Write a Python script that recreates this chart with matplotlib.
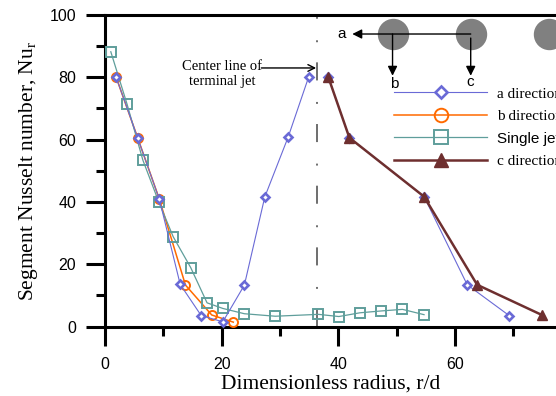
import matplotlib; matplotlib.use("Agg")
import matplotlib.pyplot as plt
from matplotlib.ticker import FixedLocator

plt.rcParams['mathtext.fontset'] = 'custom'
plt.rcParams['mathtext.rm'] = 'Liberation Serif'
plt.rcParams['mathtext.it'] = 'Liberation Serif:italic'

SERIF = 'Liberation Serif'
SANS = 'Liberation Sans'

# Data
single_x = [1.0, 3.8, 6.5, 9.2, 11.7, 14.7, 17.5, 20.2, 23.9, 29.2, 36.6, 40.1, 43.7, 47.4, 51.0, 54.7]
single_y = [88.2, 71.3, 53.4, 40.1, 28.8, 18.9, 7.6, 5.8, 4.1, 3.3, 3.9, 3.2, 4.4, 5.0, 5.5, 3.8]

b_x = [1.9, 5.6, 9.3, 13.8, 18.3, 22.0]
b_y = [80.1, 60.6, 41.0, 13.3, 3.7, 1.4]

# a direction: two branches, either side of the terminal jet
a_near_x = [1.9, 5.6, 9.3, 12.9, 16.5, 20.2, 23.9, 27.4, 31.4, 34.9]
a_near_y = [80.1, 60.6, 41.0, 13.5, 3.5, 1.5, 13.3, 41.6, 60.8, 80.0]
a_far_x = [38.3, 41.9, 54.7, 62.1, 69.3]
a_far_y = [80.0, 60.6, 41.7, 13.4, 3.5]

c_x = [38.3, 41.9, 54.7, 63.8, 74.9]
c_y = [80.0, 60.6, 41.7, 13.4, 3.7]

centerline_x = 36.3

x_major = [0, 20, 40, 60]
x_minor = [10, 30, 50, 70]
y_major = [0, 20, 40, 60, 80, 100]
y_minor = [10, 30, 50, 70, 90]

col_a = '#6a6ad6'
col_b = '#ff6a00'
col_s = '#5f9e9b'
col_c = '#6e2f2f'

fig = plt.figure(figsize=(5.56, 3.96), dpi=100)
ax = fig.add_axes([0.1888, 0.1755, 0.8393, 0.7866])
ax.set_xlim(0, 80)
ax.set_ylim(0, 100)

ax.plot(b_x, b_y, color=col_b, lw=1.1, marker='o', ms=6.5, mfc='none', mec=col_b,
        mew=1.4, label='b direction', clip_on=False, zorder=3)
ax.plot(single_x, single_y, color=col_s, lw=0.9, marker='s', ms=6.5, mfc='none', mec=col_s,
        mew=1.4, label='Single jet', clip_on=False, zorder=3)
ax.plot(a_near_x, a_near_y, color=col_a, lw=0.8, marker='D', ms=3.8, mfc='white', mec=col_a,
        mew=1.9, label='a direction', clip_on=False, zorder=4)
ax.plot(a_far_x, a_far_y, color=col_a, lw=0.8, marker='D', ms=3.8, mfc='white', mec=col_a,
        mew=1.9, clip_on=False, zorder=4)
ax.plot(c_x, c_y, color=col_c, lw=1.8, marker='^', ms=7, mfc=col_c, mec=col_c,
        label='c direction', clip_on=False, zorder=5)

# center line of the terminal jet
lw_cl = 1.2
ax.plot([centerline_x, centerline_x], [100, 0], color='#555555', lw=lw_cl,
        linestyle=(10.3 / lw_cl, (13 / lw_cl, 15.5 / lw_cl, 1.4 / lw_cl, 14.5 / lw_cl)), zorder=2)
ax.annotate('', xy=(centerline_x - 0.1, 83), xytext=(26.8, 83),
            arrowprops=dict(arrowstyle='->', color='black', lw=1.0, mutation_scale=12,
                            shrinkA=0, shrinkB=0))
ax.text(20.1, 81, 'Center line of\nterminal jet', ha='center', va='center',
        fontsize=10.5, family=SERIF, linespacing=1.25)

# jet schematic
ax.plot([49.3, 62.7, 76.1], [93.9, 93.9, 93.9], linestyle='none', marker='o', ms=21.6,
        color='#808080', clip_on=False, zorder=2)
arrow = dict(arrowstyle='-|>', color='black', lw=1.0, mutation_scale=14, shrinkA=0, shrinkB=0)
ax.annotate('', xy=(42.4, 93.9), xytext=(62.7, 93.9), arrowprops=arrow, zorder=3)
ax.annotate('', xy=(49.3, 80.5), xytext=(49.3, 93.9), arrowprops=arrow, zorder=3)
ax.annotate('', xy=(62.7, 80.5), xytext=(62.7, 92.6), arrowprops=arrow, zorder=3)
ax.text(41.3, 93.9, 'a', ha='right', va='center', fontsize=11, family=SANS)
ax.text(49.6, 78.0, 'b', ha='center', va='center', fontsize=11, family=SANS)
ax.text(62.6, 78.6, 'c', ha='center', va='center', fontsize=11, family=SANS)

# axes styling
for side in ['left', 'bottom', 'top']:
    ax.spines[side].set_linewidth(2.2)
ax.spines['right'].set_visible(False)
ax.xaxis.set_major_locator(FixedLocator(x_major))
ax.xaxis.set_minor_locator(FixedLocator(x_minor))
ax.yaxis.set_major_locator(FixedLocator(y_major))
ax.yaxis.set_minor_locator(FixedLocator(y_minor))
ax.tick_params(which='major', direction='out', length=13.7, width=2.2, labelsize=11.5)
ax.tick_params(which='minor', direction='out', length=6.5, width=2.2)
ax.tick_params(axis='x', which='major', pad=8)
ax.tick_params(axis='y', which='major', pad=7)
ax.tick_params(top=False, right=False, which='both')
for lab in ax.get_xticklabels() + ax.get_yticklabels():
    lab.set_family(SANS)

ax.set_xlabel('Dimensionless radius, r/d', fontsize=15.5, family=SERIF)
ax.xaxis.set_label_coords(0.484, -0.155)
ax.set_ylabel('Segment Nusselt number, Nu$_\\mathrm{r}$', fontsize=15.5, family=SERIF)
ax.yaxis.set_label_coords(-0.139, 0.5)

# legend
handles, labels = ax.get_legend_handles_labels()
order = [labels.index(n) for n in ['a direction', 'b direction', 'Single jet', 'c direction']]
leg = ax.legend([handles[i] for i in order], [labels[i] for i in order],
                loc='upper left', bbox_to_anchor=(0.7086, 0.780), bbox_transform=fig.transFigure,
                frameon=False, fontsize=11, handlelength=6.1, handletextpad=0.65,
                labelspacing=0.56, borderpad=0, borderaxespad=0, markerscale=1.5)
for t in leg.get_texts():
    t.set_family(SANS if t.get_text() == 'Single jet' else SERIF)

plt.savefig("out.png", dpi=100)
